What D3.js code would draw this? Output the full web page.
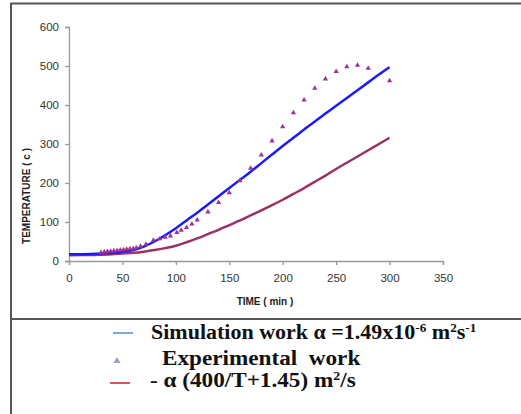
<!DOCTYPE html>
<html>
<head>
<meta charset="utf-8">
<script src="https://cdn.jsdelivr.net/npm/d3@7"></script>
<style>
  body { margin: 0; background: #fff; }
  svg { display: block; }
</style>
</head>
<body>
<div id="chart"></div>
<script>
// time (min) for the two curves
const simTime = [0, 20, 40, 50, 60, 70, 80, 90, 100, 110, 120, 130, 140, 150, 160, 170, 180, 190, 200, 210, 220, 230, 240, 250, 260, 270, 280, 290, 300];
const simTemp = [17, 18, 21, 24, 28, 37, 50, 66, 84, 104, 124, 145, 166, 187, 208, 229, 251, 273, 295, 316, 337, 358, 378, 398, 418, 438, 458, 478, 497];
const varTemp = [15, 15.5, 17, 19, 21, 24, 28, 33, 39, 48, 58, 69, 80, 92, 104, 117, 130, 143, 157, 172, 187, 203, 219, 236, 252, 268, 284, 300, 316];

// experimental points
const expTime = [30, 33, 36, 39, 42, 45, 48, 51, 54, 57, 60, 63, 67, 72, 79, 85, 90, 95, 101, 105, 110, 115, 120, 130, 140, 150, 160, 170, 180, 190, 200, 210, 220, 230, 240, 250, 260, 270, 280, 300];
const expTemp = [22, 23, 24, 25, 26, 27, 28, 29, 30, 31, 32, 34, 38, 43, 53, 57, 61, 64, 73, 79, 86, 95, 105, 126, 150, 175, 206, 238, 272, 308, 344, 380, 413, 443, 467, 486, 498, 502, 494, 462];

const xTicks = [0, 50, 100, 150, 200, 250, 300, 350];
const yTicks = [0, 100, 200, 300, 400, 500, 600];

const W = 521, H = 414;
const svg = d3.select("#chart").append("svg")
  .attr("width", W).attr("height", H)
  .style("font-family", "Arial, 'Liberation Sans', sans-serif");

// frame
svg.append("path")
  .attr("d", `M11,${H} L11,3.5 L${W},3.5`)
  .attr("fill", "none").attr("stroke", "#555").attr("stroke-width", 2);
svg.append("line")
  .attr("x1", 11).attr("x2", W).attr("y1", 319).attr("y2", 319)
  .attr("stroke", "#555").attr("stroke-width", 2);

const x = d3.scaleLinear().domain([0, 350]).range([69, 443]);
const y = d3.scaleLinear().domain([0, 600]).range([261, 27]);

// axes
const gx = svg.append("g")
  .attr("transform", `translate(0,${y(0)})`)
  .call(d3.axisBottom(x).tickValues(xTicks).tickSize(4).tickPadding(9));
const gy = svg.append("g")
  .attr("transform", `translate(${x(0)},0)`)
  .call(d3.axisLeft(y).tickValues(yTicks).tickSize(4).tickPadding(6));
[gx, gy].forEach(g => {
  g.select(".domain").attr("stroke", "#999").attr("stroke-width", 1.3);
  g.selectAll(".tick line").attr("stroke", "#999").attr("stroke-width", 1.3);
  g.selectAll(".tick text").attr("fill", "#333").style("font-size", "11.5px")
    .style("font-family", "Arial, 'Liberation Sans', sans-serif");
});

// axis titles
svg.append("text")
  .attr("x", 265).attr("y", 305)
  .attr("text-anchor", "middle")
  .style("font-size", "10px").style("font-weight", "bold").attr("fill", "#222")
  .text("TIME ( min )");
svg.append("text")
  .attr("transform", "translate(30,196) rotate(-90)")
  .attr("text-anchor", "middle")
  .style("font-size", "10px").style("font-weight", "bold").attr("fill", "#222")
  .text("TEMPERATURE ( c )");

// curves
const line = d3.line().curve(d3.curveMonotoneX);
svg.append("path")
  .attr("d", line(simTime.map((t, i) => [x(t), y(varTemp[i])])))
  .attr("fill", "none").attr("stroke", "#993366").attr("stroke-width", 2.5);
svg.append("path")
  .attr("d", line(simTime.map((t, i) => [x(t), y(simTemp[i])])))
  .attr("fill", "none").attr("stroke", "#1a1aff").attr("stroke-width", 2.5);

// experimental markers
const tri = d3.symbol().type(d3.symbolTriangle).size(12);
svg.append("g").selectAll("path")
  .data(expTime.map((t, i) => [t, expTemp[i]]))
  .join("path")
  .attr("d", tri)
  .attr("transform", d => `translate(${x(d[0])},${y(d[1])})`)
  .attr("fill", "#993399");

// legend
const serif = "'Liberation Serif', 'Times New Roman', serif";
const leg = svg.append("g").style("font-family", serif).style("font-weight", "bold")
  .attr("fill", "#111");

leg.append("line").attr("x1", 113).attr("x2", 133).attr("y1", 333).attr("y2", 333)
  .attr("stroke", "#80a8e0").attr("stroke-width", 2);
leg.append("path").attr("d", d3.symbol().type(d3.symbolTriangle).size(22))
  .attr("transform", "translate(117,361)").attr("fill", "#a898cc");
leg.append("line").attr("x1", 110).attr("x2", 130).attr("y1", 383).attr("y2", 383)
  .attr("stroke", "#dd5555").attr("stroke-width", 2);

// text is a bit wider than the font, stretch horizontally
const t1 = leg.append("text").attr("transform", "translate(151,339) scale(1.1,1)").style("font-size", "20px");
t1.append("tspan").text("Simulation work \u03b1 =1.49x10");
t1.append("tspan").attr("dy", -7).style("font-size", "12px").text("-6");
t1.append("tspan").attr("dy", 7).text(" m");
t1.append("tspan").attr("dy", -7).style("font-size", "12px").text("2");
t1.append("tspan").attr("dy", 7).text("s");
t1.append("tspan").attr("dy", -7).style("font-size", "12px").text("-1");

leg.append("text").attr("transform", "translate(162,365) scale(1.16,1)").style("font-size", "20px")
  .style("white-space", "pre")
  .text("Experimental  work");

const t3 = leg.append("text").attr("transform", "translate(150,387) scale(1.16,1)").style("font-size", "20px");
t3.append("tspan").text("- \u03b1 (400/T+1.45) m");
t3.append("tspan").attr("dy", -7).style("font-size", "12px").text("2");
t3.append("tspan").attr("dy", 7).text("/s");
</script>
</body>
</html>
